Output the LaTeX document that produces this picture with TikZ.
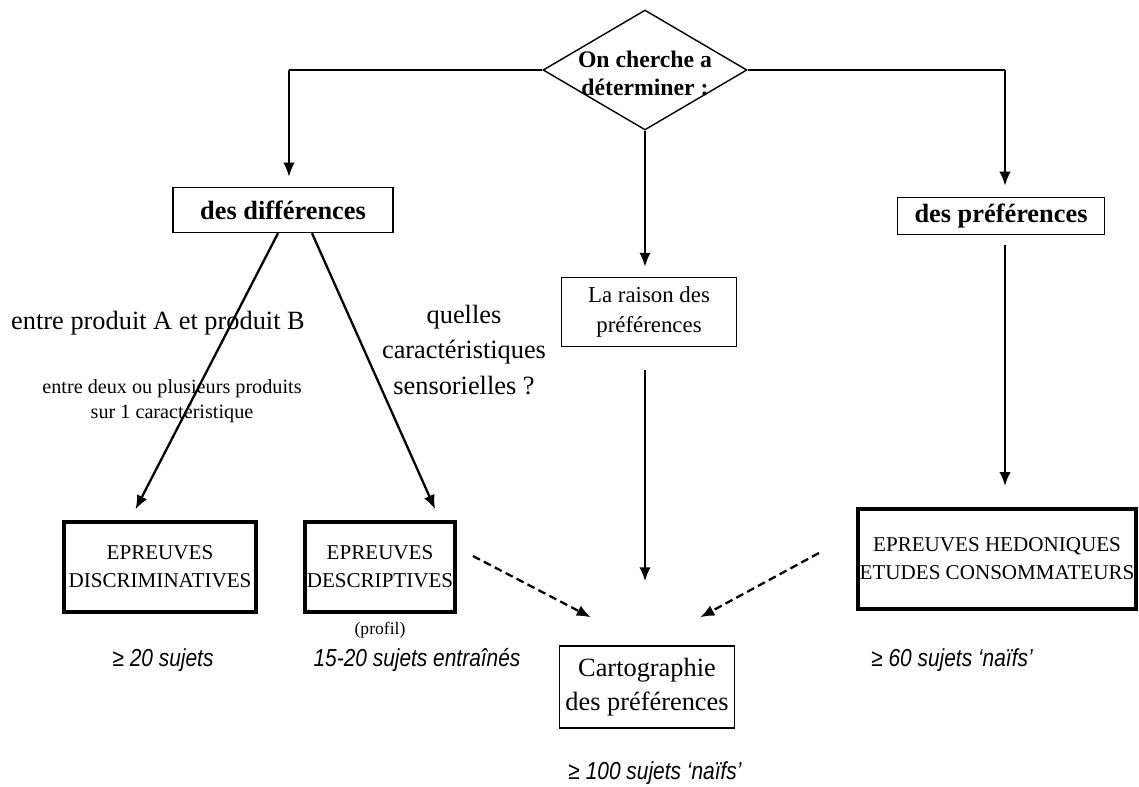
\documentclass[tikz,border=0pt]{standalone}
\usepackage{fontspec}
\setmainfont{Liberation Serif}
\newfontfamily\countfont[FakeStretch=0.85]{Liberation Sans}
\usetikzlibrary{shapes.geometric,arrows.meta}

\begin{document}
\begin{tikzpicture}[x=0.02cm,y=-0.02cm,>={Latex[length=8pt,width=6.5pt]},
  box/.style={draw,line width=0.8pt,align=center,inner sep=2pt},
  heavybox/.style={draw,line width=2.2pt,align=center,inner sep=1pt,font=\fontsize{12}{16}\selectfont},
  arr/.style={->,line width=1.3pt},
  dasharr/.style={->,line width=1.3pt,dash pattern=on 4.5pt off 2.5pt},
  link/.style={line width=0.8pt},
  note/.style={align=center},
  count/.style={font=\countfont\itshape\fontsize{14}{16}\selectfont}]
  \useasboundingbox (0,0) rectangle (1139,787);

  \node[draw,diamond,line width=0.8pt,minimum width=4.08cm,minimum height=2.4cm,inner sep=0pt] (ask) at (645,70) {};
  \node[note,font=\bfseries\fontsize{13.5}{16}\selectfont] (asklbl) at (645,73) {On cherche a\\déterminer :};

  \node[box,minimum width=4.4cm,minimum height=0.9cm,font=\bfseries\fontsize{15}{18}\selectfont] (diff) at (283,210) {des différences};
  \node[box,minimum width=4.14cm,minimum height=0.74cm,font=\bfseries\fontsize{15}{18}\selectfont] (pref) at (1001,216) {des préférences};
  \node[box,minimum width=3.5cm,minimum height=1.38cm,font=\fontsize{13}{17}\selectfont] (raison) at (649,312) {La raison des\\préférences};
  \node[heavybox,minimum width=3.84cm,minimum height=1.8cm] (discr) at (160,567) {EPREUVES\\DISCRIMINATIVES};
  \node[heavybox,minimum width=2.8cm,minimum height=1.8cm] (descr) at (380,567) {EPREUVES\\DESCRIPTIVES};
  \node[heavybox,minimum width=5.5cm,minimum height=2cm] (hedo) at (997,559) {EPREUVES HEDONIQUES\\ETUDES CONSOMMATEURS};
  \node[box,minimum width=3.5cm,minimum height=1.64cm,font=\fontsize{15}{19}\selectfont] (carto) at (647,687) {Cartographie\\des préférences};

  % textes libres
  \node[font=\fontsize{15}{18}\selectfont] (ab) at (158,323) {entre produit A et produit B};
  \node[note,font=\fontsize{11.5}{14.5}\selectfont] (deux) at (172,401) {entre deux ou plusieurs produits\\sur 1 caractéristique};
  \node[note,font=\fontsize{15}{20}\selectfont] (quel) at (464,350) {quelles\\caractéristiques\\sensorielles ?};
  \node[font=\fontsize{10}{12}\selectfont] (profil) at (380,630) {(profil)};
  \node[count] (n20) at (163,660) {≥ 20 sujets};
  \node[count] (n1520) at (417,660) {15-20 sujets entraînés};
  \node[count] (n60) at (952,660) {≥ 60 sujets ‘naïfs’};
  \node[count] (n100) at (655,773) {≥ 100 sujets ‘naïfs’};

  \coordinate (lturn) at (289,70);
  \coordinate (rturn) at (1005,70);
  \draw[link] (ask.west) -- (lturn);
  \draw[arr,shorten >=0.2cm] (lturn) -- (lturn |- diff.north);
  \draw[link] (ask.east) -- (rturn);
  \draw[arr,shorten >=0.22cm] (rturn) -- (rturn |- pref.north);
  \draw[arr,shorten >=0.2cm] (ask.south) -- (ask.south |- raison.north);
  \draw[arr,shorten <=0.46cm,shorten >=1.28cm] (raison.south -| ask.south) -- (carto.north -| ask.south);
  \draw[arr,shorten <=0.2cm,shorten >=0.42cm] (pref.south -| rturn) -- (hedo.north -| rturn);
  \draw[arr,shorten >=0.24cm] ([xshift=-0.1cm]diff.south) -- ([xshift=-0.6cm]discr.north);
  \draw[arr,shorten >=0.24cm] ([xshift=0.58cm]diff.south) -- ([xshift=1.2cm]descr.north);
  \draw[dasharr] ([xshift=0.32cm,yshift=0.22cm]descr.east) -- ([xshift=0.64cm,yshift=0.56cm]carto.north west);
  \draw[dasharr] ([xshift=-0.74cm,yshift=0.12cm]hedo.west) -- ([xshift=-0.7cm,yshift=0.56cm]carto.north east);
\end{tikzpicture}
\end{document}
